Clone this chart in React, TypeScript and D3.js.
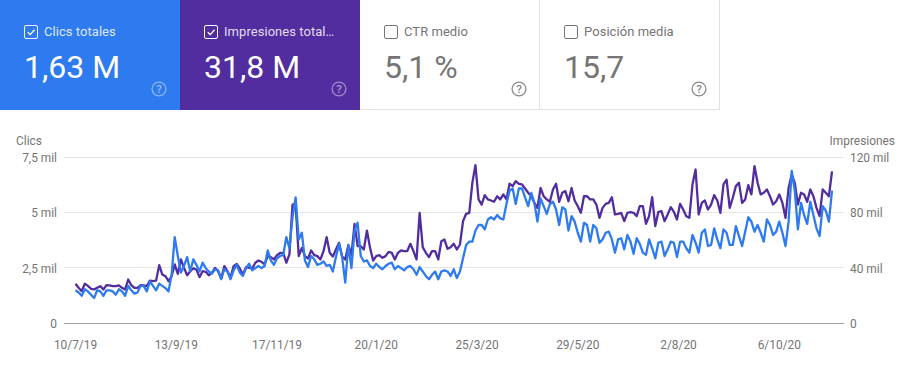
import React from "react";
import * as d3 from "d3";

// Daily samples taken every second day, starting 10 Jul 2019
const startDate = "2019-07-10";
const sampleStepDays = 2;

// Clicks, thousands
const clicks = [
  1.5,1.4,1.25,1.55,1.45,1.3,1.15,1.5,1.45,1.25,1.5,1.5,1.45,1.3,1.55,1.45,1.25,1.7,1.5,1.35,
  1.4,1.7,1.7,1.45,1.9,1.7,1.5,1.8,1.7,1.6,1.45,2.2,3.9,3.05,2.3,2.6,3.0,2.35,2.9,2.65,
  2.35,2.75,2.5,2.35,2.25,2.45,2.4,2.0,2.45,2.35,2.0,2.4,2.65,2.3,2.15,2.5,2.7,2.4,2.5,2.6,
  2.5,2.6,3.3,2.85,2.65,2.95,3.05,3.1,3.9,3.4,4.8,5.7,3.8,4.1,2.85,2.55,3.05,2.9,2.65,2.7,
  2.8,2.6,2.65,2.35,3.0,3.6,3.0,1.85,3.55,2.5,4.2,4.55,3.05,2.8,2.85,2.6,2.5,2.7,2.55,2.45,
  2.6,2.7,2.75,2.45,2.6,2.5,2.4,2.55,2.6,2.45,2.2,2.55,2.35,2.15,2.0,2.2,2.35,2.0,2.35,2.4,
  2.35,2.15,2.45,2.05,2.35,2.95,3.55,3.7,3.7,4.2,4.45,4.45,4.25,4.7,4.8,4.7,4.9,4.75,4.7,5.4,
  6.0,6.1,5.4,6.1,6.1,5.7,5.3,5.9,5.45,4.6,5.65,5.3,4.95,5.4,5.5,5.15,4.45,5.25,5.15,4.2,
  4.85,4.6,4.1,3.7,4.55,4.45,3.7,4.45,4.3,3.65,3.8,4.1,4.15,3.8,3.2,3.8,3.85,3.35,4.0,3.7,
  3.15,3.85,3.6,3.2,3.1,3.8,3.4,2.95,3.65,3.7,3.05,3.35,3.7,3.65,3.0,3.7,3.7,3.4,3.2,4.0,
  3.65,3.2,4.1,4.25,3.5,3.55,4.3,3.8,3.4,4.25,4.1,3.55,3.55,4.4,3.95,3.5,4.15,4.8,4.6,4.15,
  4.45,4.1,3.7,4.7,4.45,4.0,4.15,4.6,4.1,3.5,4.6,6.9,6.0,4.25,5.45,4.9,4.5,5.5,4.9,4.3,
  3.95,5.3,5.1,4.6,6.0,
];

// Impressions, thousands
const impressions = [
  28.7,25.8,23.4,28.7,27.2,25.1,24.6,25.8,27.0,24.6,27.7,27.5,27.0,27.0,27.5,25.8,24.6,31.8,27.7,25.8,
  25.8,27.7,27.5,27.0,31.0,30.6,31.0,42.2,35.4,34.2,30.6,34.2,42.7,35.9,46.3,40.2,34.9,37.8,39.8,39.0,
  33.5,37.8,37.4,34.9,36.6,40.2,37.8,32.5,41.5,37.8,33.0,41.5,43.1,39.8,35.4,40.7,40.2,39.8,43.9,45.5,
  44.6,42.7,48.7,48.0,46.3,49.4,51.0,51.0,43.9,50.0,86.0,86.5,48.7,54.7,48.7,47.0,52.8,49.4,48.7,46.3,
  52.3,62.4,51.1,48.4,53.5,58.3,48.4,46.3,56.6,49.4,72.0,55.9,55.9,53.5,67.2,54.7,45.5,48.7,49.4,47.5,
  48.7,51.8,51.1,46.3,51.1,52.8,52.3,52.3,57.6,52.3,46.3,80.0,55.2,51.1,48.0,52.3,52.3,46.3,59.5,60.7,
  54.0,55.2,57.6,53.5,57.1,74.0,79.3,80.0,101.7,114.5,89.7,86.0,92.8,89.7,88.9,88.0,92.0,89.7,93.3,89.7,
  101.0,99.3,102.9,101.0,100.5,97.6,94.5,92.0,87.2,83.6,98.0,92.0,89.7,88.0,96.9,101.0,88.0,94.5,95.7,88.4,
  98.0,88.9,84.8,80.0,92.0,92.0,89.7,89.7,86.0,76.4,83.6,86.5,87.2,91.3,78.8,79.3,80.0,74.0,80.0,80.5,
  80.0,77.6,84.8,84.8,72.0,77.6,91.3,70.4,80.7,81.2,74.0,78.8,84.1,80.7,75.2,86.5,82.4,77.6,76.4,100.5,
  111.3,78.8,87.2,88.9,82.4,86.0,92.8,88.9,80.0,100.5,104.0,83.6,90.9,99.3,101.7,87.2,89.7,100.0,93.3,113.8,
  101.7,93.3,94.5,96.9,92.0,86.0,88.4,93.3,87.2,76.4,98.0,107.7,101.7,86.0,94.5,93.3,88.0,96.9,92.0,83.6,
  77.6,96.9,94.5,92.0,110.0,
];

const clickTicks = [0, 2.5, 5, 7.5];
const clickTickLabels = ["0", "2,5 mil", "5 mil", "7,5 mil"];
const imprTicks = [0, 40, 80, 120];
const imprTickLabels = ["0", "40 mil", "80 mil", "120 mil"];
const dateTicks = ["2019-07-10","2019-09-13","2019-11-17","2020-01-20","2020-03-25","2020-05-29","2020-08-02","2020-10-06"];
const dateTickLabels = ["10/7/19","13/9/19","17/11/19","20/1/20","25/3/20","29/5/20","2/8/20","6/10/20"];

const cardTitles = ["Clics totales", "Impresiones total…", "CTR medio", "Posición media"];
const cardValues = ["1,63 M", "31,8 M", "5,1 %", "15,7"];
const cardActive = [true, true, false, false];

const BLUE = "#2e7bf0";
const PURPLE = "#522da0";
const FONT = "Roboto, sans-serif";
const GREY = "#757575";
const AXIS_SIZE = 11.9;

const CARD_W = 180;
const CARD_H = 110;

const day = (s: string) => new Date(s + "T00:00:00Z");

function Card({ i }: { i: number }) {
  const on = cardActive[i];
  const x0 = i * CARD_W;
  const fill = i === 0 ? BLUE : i === 1 ? PURPLE : "#fff";
  const main = on ? "#fff" : "#757575";
  return (
    <g transform={`translate(${x0},0)`}>
      <rect x={0} y={0} width={CARD_W} height={CARD_H} fill={fill} />
      {!on && (
        <path d={`M${CARD_W - 0.5},0V${CARD_H - 0.5}H0`} fill="none" stroke="#e0e0e0" />
      )}
      <rect x={24.5} y={25.5} width={13} height={13} rx={1.5} fill="none" stroke={on ? "#fff" : "#757575"} strokeWidth={1} />
      {on && <path d="M27.8,32.2l2.4,2.4l4.4,-4.8" fill="none" stroke="#fff" strokeWidth={1.3} />}
      <g opacity={0.999}>
        <text x={44} y={36} fontFamily={FONT} fontSize={13} letterSpacing={0.05} fill={on ? "#fff" : "#757575"} fillOpacity={on ? 0.85 : 1}>{cardTitles[i]}</text>
        <text x={24} y={78} fontFamily={FONT} fontSize={32} fill={main}>{cardValues[i]}</text>
        <text x={159} y={93.2} textAnchor="middle" fontFamily={FONT} fontSize={11.5} fontWeight={500} fill={on ? "#fff" : "#757575"} fillOpacity={on ? 0.5 : 0.9}>?</text>
      </g>
      <circle cx={159} cy={89} r={6.9} fill="none" strokeWidth={1.3} stroke={on ? "#fff" : "#757575"} strokeOpacity={on ? 0.45 : 0.85} />
    </g>
  );
}

export default function App() {
  const y0 = 323.5;
  const yTop = 157.5;
  const xLeft = 64;
  const xRight = 844;

  const dates = clicks.map((_, i) => d3.utcDay.offset(day(startDate), i * sampleStepDays));
  const x = d3.scaleUtc().domain([dates[0], dates[dates.length - 1]]).range([75.5, 832]);
  const yC = d3.scaleLinear().domain([0, 7.5]).range([y0, yTop]);
  const yI = d3.scaleLinear().domain([0, 120]).range([y0, yTop]);

  const lineC = d3.line<number>().x((_, i) => x(dates[i])).y((d) => yC(d)).curve(d3.curveLinear);
  const lineI = d3.line<number>().x((_, i) => x(dates[i])).y((d) => yI(d)).curve(d3.curveLinear);

  return (
    <svg width={912} height={377} style={{ position: "absolute", left: 0, top: 0, background: "#fff" }}>
      {cardTitles.map((_, i) => <Card key={i} i={i} />)}

      {clickTicks.map((t) => (
        <line key={t} x1={xLeft} x2={xRight} y1={Math.round(yC(t)) - 0.5} y2={Math.round(yC(t)) - 0.5}
          stroke={t === 0 ? "#9e9e9e" : "#e5e5e5"} />
      ))}

      <path d={lineI(impressions) ?? ""} fill="none" stroke={PURPLE} strokeWidth={2.3} strokeLinejoin="round" />
      <path d={lineC(clicks) ?? ""} fill="none" stroke={BLUE} strokeWidth={2.3} strokeLinejoin="round" />

      <g opacity={0.999} fontFamily={FONT} fontSize={AXIS_SIZE} fill={GREY}>
        <text x={16} y={145}>Clics</text>
        <text x={895} y={145} textAnchor="end">Impresiones</text>
        {clickTicks.map((t, i) => (
          <text key={t} x={57} y={yC(t) + 4.5} textAnchor="end">{clickTickLabels[i]}</text>
        ))}
        {imprTicks.map((t, i) => (
          <text key={t} x={850} y={yI(t) + 4.5}>{imprTickLabels[i]}</text>
        ))}
        {dateTicks.map((d, i) => (
          <text key={d} x={x(day(d))} y={349} textAnchor="middle">{dateTickLabels[i]}</text>
        ))}
      </g>
    </svg>
  );
}
